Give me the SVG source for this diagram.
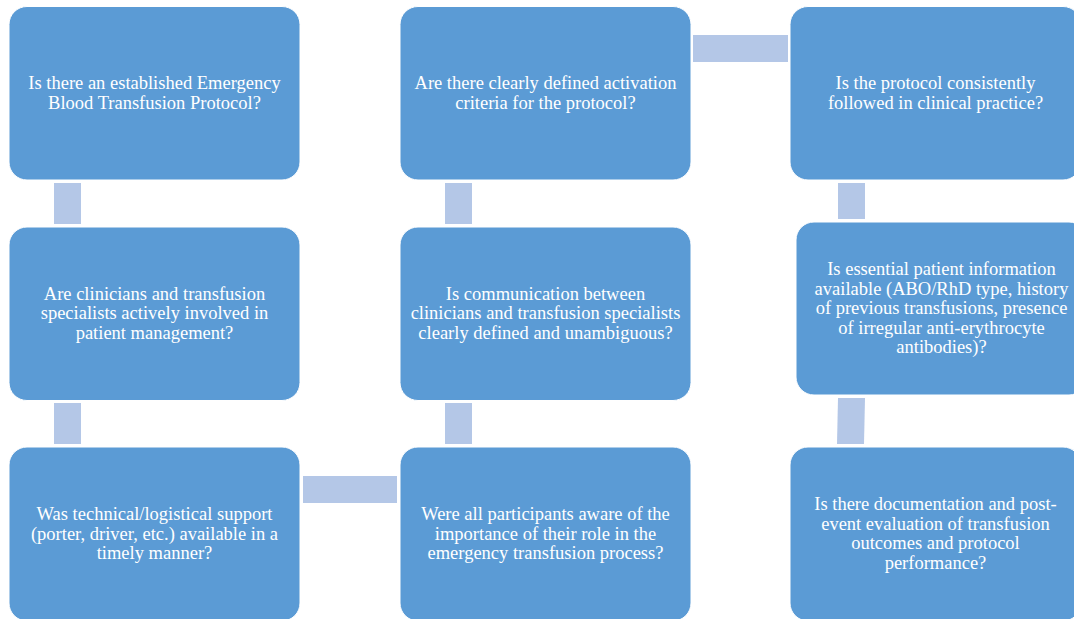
<svg xmlns="http://www.w3.org/2000/svg" width="1074" height="619" viewBox="0 0 1074 619">
<style>
.box{fill:#5B9BD5;stroke:#FFFFFF;stroke-width:1}
.con{fill:#B4C7E7}
.t{font-family:"Liberation Serif","Times New Roman",serif;font-size:18.5px;fill:#FFFFFF;text-anchor:middle}
</style>
<rect width="1074" height="619" fill="#FFFFFF"/>
<g id="connectors">
<rect class="con" x="54" y="183" width="27" height="41"/>
<rect class="con" x="54" y="403" width="27" height="41"/>
<rect class="con" x="303" y="476" width="94" height="27"/>
<rect class="con" x="445" y="403" width="27" height="41"/>
<rect class="con" x="445" y="183" width="27" height="41"/>
<rect class="con" x="693" y="35" width="95" height="27"/>
<rect class="con" x="838" y="183" width="27" height="36"/>
<polygon class="con" points="838,398 865,398 864,444 837,444"/>
</g>
<g class="t">
<g id="n1">
<rect class="box" x="9" y="6.5" width="291" height="173.5" rx="18"/>
<text x="154.5" y="89">Is there an established Emergency</text>
<text x="154.5" y="108.5">Blood Transfusion Protocol?</text>
</g>
<g id="n2">
<rect class="box" x="9" y="227" width="291" height="173.5" rx="18"/>
<text x="154.5" y="299.5">Are clinicians and transfusion</text>
<text x="154.5" y="319">specialists actively involved in</text>
<text x="154.5" y="338.5">patient management?</text>
</g>
<g id="n3">
<rect class="box" x="9" y="447" width="291" height="174" rx="18"/>
<text x="154.5" y="520">Was technical/logistical support</text>
<text x="154.5" y="539.5">(porter, driver, etc.) available in a</text>
<text x="154.5" y="559">timely manner?</text>
</g>
<g id="n4">
<rect class="box" x="400" y="447" width="291" height="174" rx="18"/>
<text x="545.5" y="520">Were all participants aware of the</text>
<text x="545.5" y="539.5">importance of their role in the</text>
<text x="545.5" y="559">emergency transfusion process?</text>
</g>
<g id="n5">
<rect class="box" x="400" y="227" width="291" height="173.5" rx="18"/>
<text x="545.5" y="299.5">Is communication between</text>
<text x="545.5" y="319">clinicians and transfusion specialists</text>
<text x="545.5" y="338.5">clearly defined and unambiguous?</text>
</g>
<g id="n6">
<rect class="box" x="400" y="6.5" width="291" height="173.5" rx="18"/>
<text x="545.5" y="89">Are there clearly defined activation</text>
<text x="545.5" y="108.5">criteria for the protocol?</text>
</g>
<g id="n7">
<rect class="box" x="790" y="6.5" width="291" height="173.5" rx="18"/>
<text x="935.5" y="89">Is the protocol consistently</text>
<text x="935.5" y="108.5">followed in clinical practice?</text>
</g>
<g id="n8">
<rect class="box" x="796" y="222" width="291" height="173" rx="18"/>
<text x="941.5" y="275">Is essential patient information</text>
<text x="941.5" y="294.5">available (ABO/RhD type, history</text>
<text x="941.5" y="314">of previous transfusions, presence</text>
<text x="941.5" y="333.5">of irregular anti-erythrocyte</text>
<text x="941.5" y="353">antibodies)?</text>
</g>
<g id="n9">
<rect class="box" x="790" y="447" width="291" height="174" rx="18"/>
<text x="935.5" y="510">Is there documentation and post-</text>
<text x="935.5" y="529.5">event evaluation of transfusion</text>
<text x="935.5" y="549">outcomes and protocol</text>
<text x="935.5" y="568.5">performance?</text>
</g>
</g>
</svg>
